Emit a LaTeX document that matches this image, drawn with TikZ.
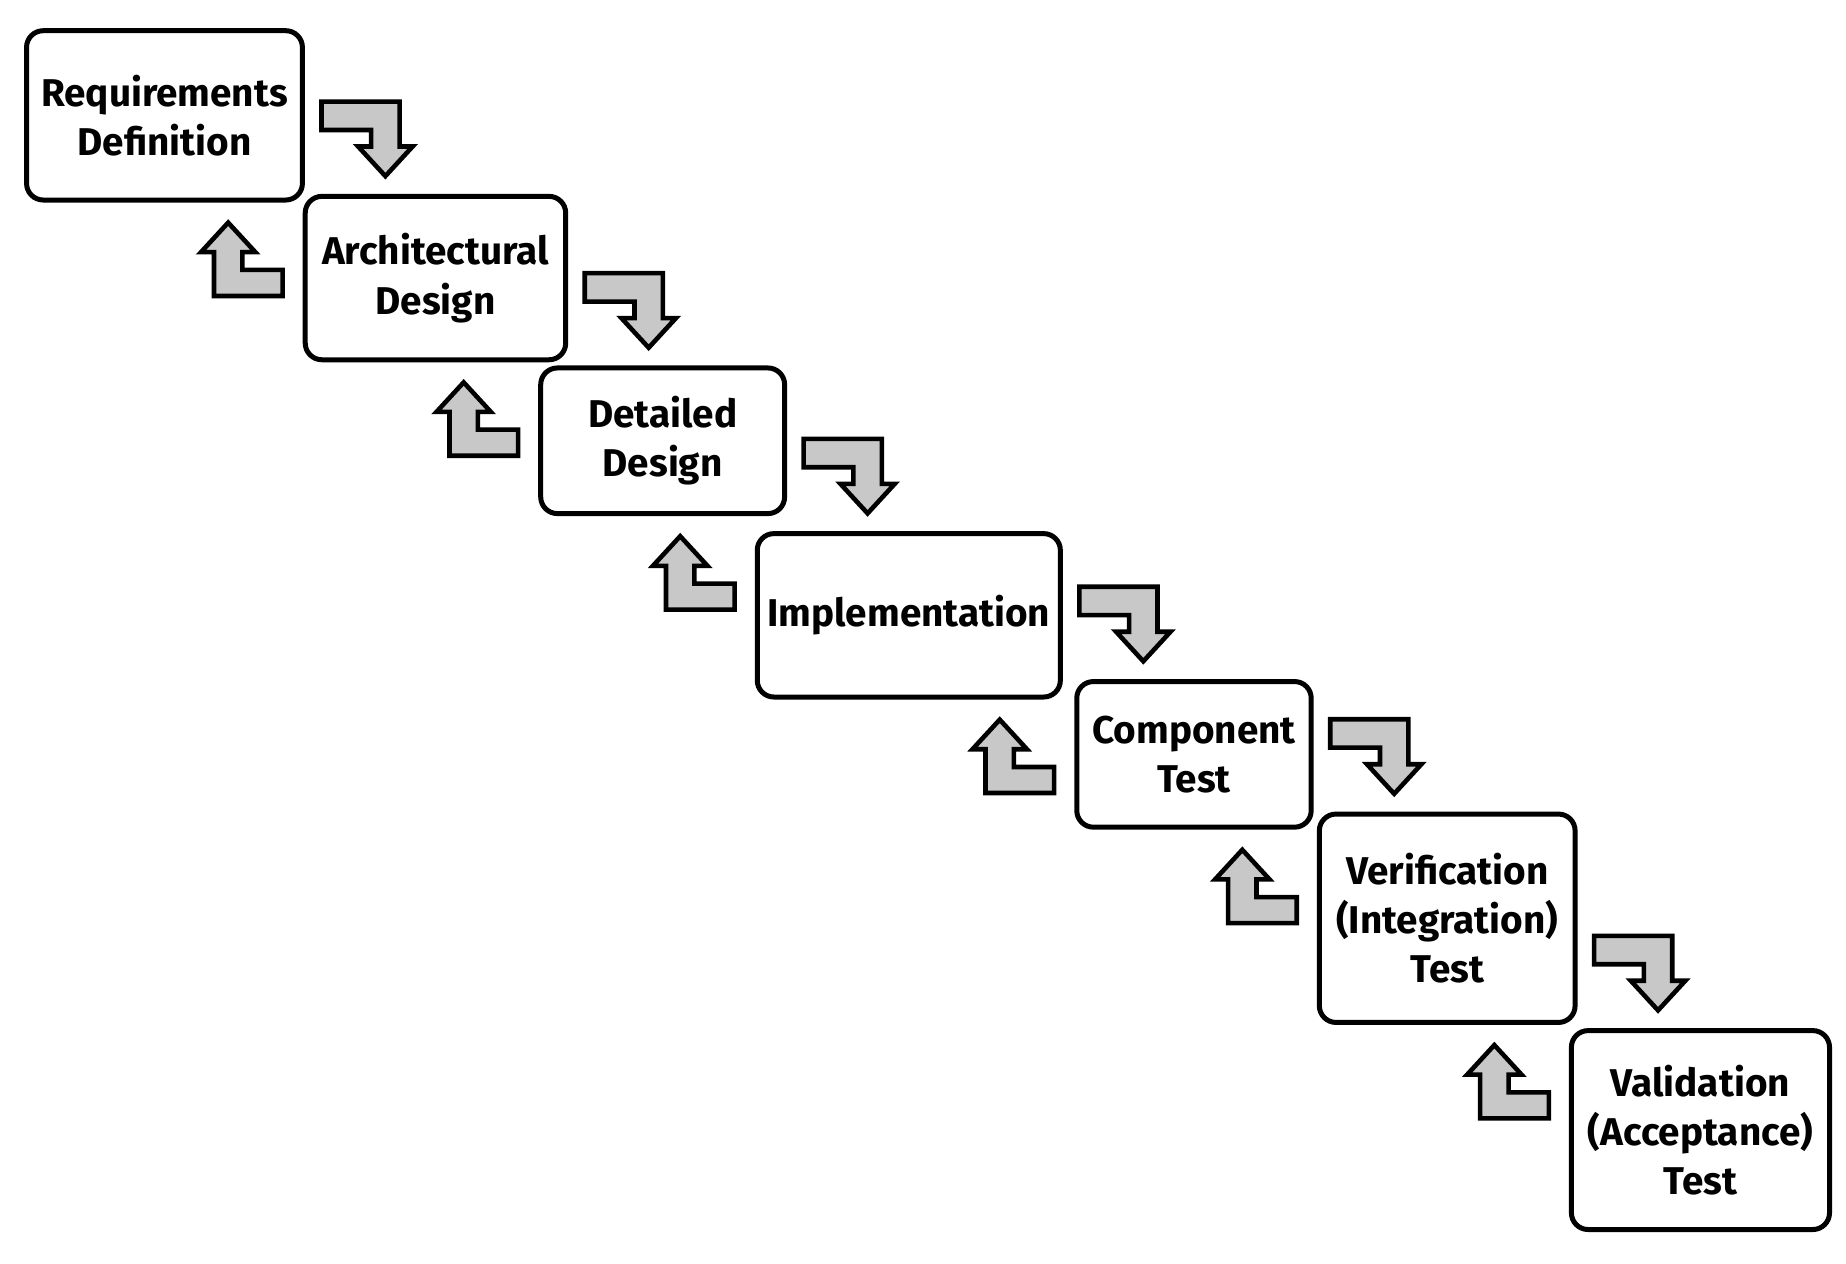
\documentclass[tikz,border=0pt]{standalone}
\usepackage{fontspec}
\setmainfont{Fira Sans}
\usetikzlibrary{calc}
\definecolor{arrgray}{RGB}{200,200,200}
% bent block arrows between the stages
\newcommand\stepdown[2]{\filldraw[blockarr]($(#1.east |- #2.north)+(14,-78)$)--++(66,0)--++(0,38)--++(11,0)--++(-23,25)--++(-23,-25)--++(11,0)--++(0,-14)--++(-42,0)--cycle;}
\newcommand\stepup[2]{\filldraw[blockarr]($(#2.west |- #1.south)+(-17,79)$)--++(-58,0)--++(0,-37)--++(-11,0)--++(23,-25)--++(23,25)--++(-11,0)--++(0,15)--++(34,0)--cycle;}
\begin{document}
\begin{tikzpicture}[x=0.01cm,y=-0.01cm,font=\fontsize{9.3}{11.8}\selectfont\bfseries,
	stage/.style={draw,line width=1.2pt,rounded corners=4pt,align=center,inner sep=1pt},
	blockarr/.style={draw,fill=arrgray,line width=1.1pt,line join=miter}]
	\useasboundingbox (0,0) rectangle (1560,1068);
	\node[stage,minimum width=2.33cm,minimum height=1.43cm] (req) at (139,97.5) {Requirements\\Definition};
	\node[stage,minimum width=2.20cm,minimum height=1.38cm] (arch) at (368,235) {Architectural\\Design};
	\node[stage,minimum width=2.06cm,minimum height=1.23cm] (det) at (560,372.5) {Detailed\\Design};
	\node[stage,minimum width=2.56cm,minimum height=1.38cm] (impl) at (768,520) {Implementation};
	\node[stage,minimum width=1.98cm,minimum height=1.23cm] (comp) at (1009,637.5) {Component\\Test};
	\node[stage,minimum width=2.16cm,minimum height=1.76cm] (verif) at (1223,776) {Verification\\(Integration)\\Test};
	\node[stage,minimum width=2.18cm,minimum height=1.68cm] (valid) at (1437,955) {Validation\\(Acceptance)\\Test};
	\foreach \a/\b in {req/arch,arch/det,det/impl,impl/comp,comp/verif,verif/valid}{
		\stepdown{\a}{\b}
		\stepup{\a}{\b}
	}
\end{tikzpicture}
\end{document}
